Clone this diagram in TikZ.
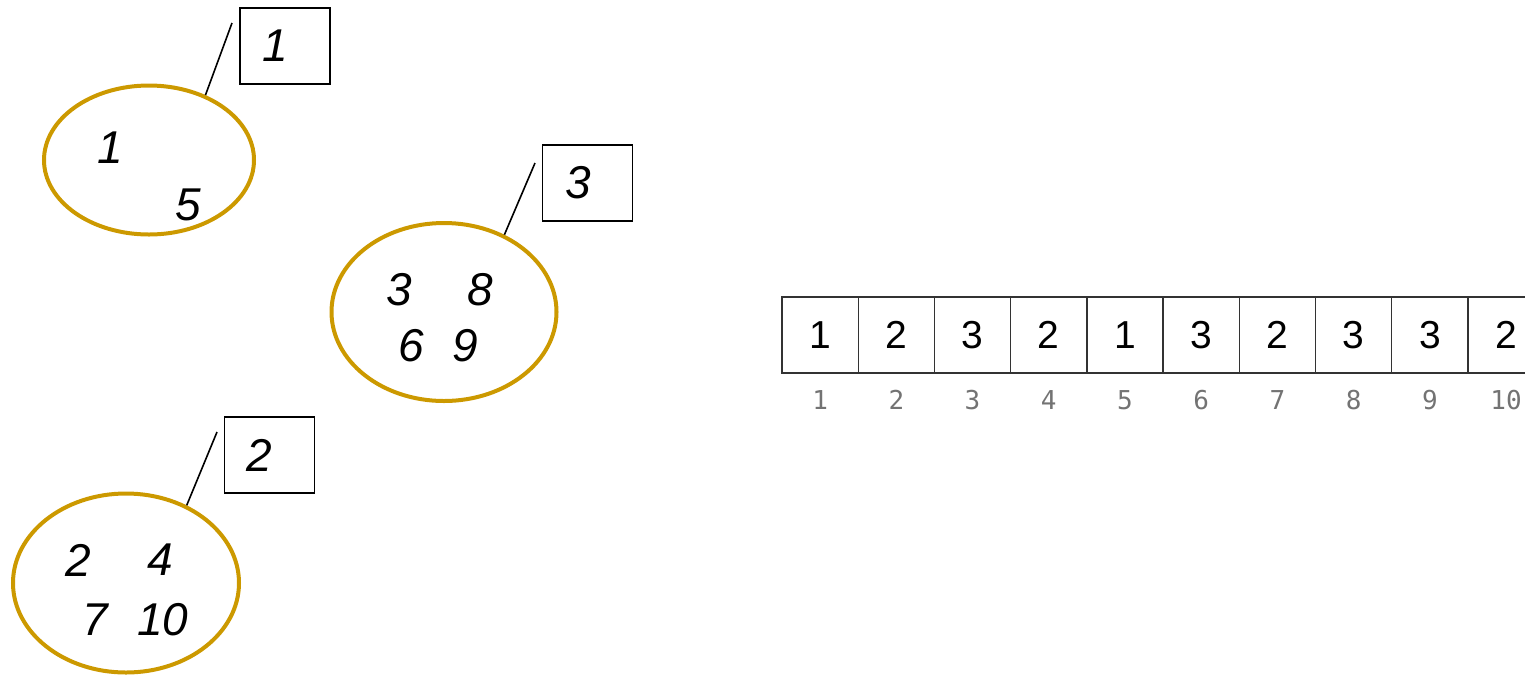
\documentclass[tikz,border=0pt]{standalone}
\usepackage{fontspec}
\setmainfont{Liberation Sans}
\newfontfamily\idxfont{DejaVu Sans Mono}
\usetikzlibrary{shapes.geometric}
\definecolor{gold}{HTML}{CC9900}
\tikzset{
 setell/.style={ellipse, draw=gold, line width=2pt, inner sep=0pt},
 tag/.style={draw, line width=0.6pt, minimum width=45pt, minimum height=38pt, inner sep=0pt, font=\fontsize{23}{23}\selectfont\itshape},
 elem/.style={font=\fontsize{23}{23}\selectfont\itshape, inner sep=0pt},
 cell/.style={draw=black!80, line width=0.7pt, minimum width=38.11pt, minimum height=38pt, inner sep=0pt, font=\fontsize{19.5}{19.5}\selectfont},
 idx/.style={font=\idxfont\fontsize{13}{13}\selectfont, text=black!55, inner sep=0pt},
 lead/.style={line width=0.8pt}
}
\begin{document}
\begin{tikzpicture}[x=0.5pt,y=-0.5pt]
\useasboundingbox (0,0) rectangle (1525,676);
\clip (0,0) rectangle (1525,676);
% set 1
\node[setell, minimum width=105pt, minimum height=74.5pt] (e1) at (149,160) {};
\node[elem] (e1a) at (110,148) {1};
\node[elem] (e1b) at (188,205) {5};
\node[tag] (b1) at (285,46) {1\kern10pt};
\coordinate (t1) at (232,23);
\draw[lead] (e1.49) -- (t1);
% set 3
\node[setell, minimum width=112.5pt, minimum height=89pt] (e3) at (444,312) {};
\node[elem] (e3a) at (399,290) {3};
\node[elem] (e3b) at (480,290) {8};
\node[elem] (e3c) at (411,346) {6};
\node[elem] (e3d) at (465,346) {9};
\node[tag] (b3) at (587.5,183) {3\kern9pt};
\coordinate (t3) at (535,163);
\draw[lead] (e3.52) -- (t3);
% set 2
\node[setell, minimum width=113pt, minimum height=89.5pt] (e2) at (126,583) {};
\node[elem] (e2a) at (78,560) {2};
\node[elem] (e2b) at (160,560) {4};
\node[elem] (e2c) at (95,620) {7};
\node[elem] (e2d) at (163,620) {10};
\node[tag] (b2) at (269.5,455) {2\kern10pt};
\coordinate (t2) at (217,432);
\draw[lead] (e2.52) -- (t2);
% array
\foreach \v [count=\i] in {1,2,3,2,1,3,2,3,3,2} {
  \node[cell] (c\i) at ({782+76.22*(\i-0.5)},335) {\v};
  \node[idx] (n\i) at ([yshift=-13pt]c\i.south) {\i};
}
\end{tikzpicture}
\end{document}
